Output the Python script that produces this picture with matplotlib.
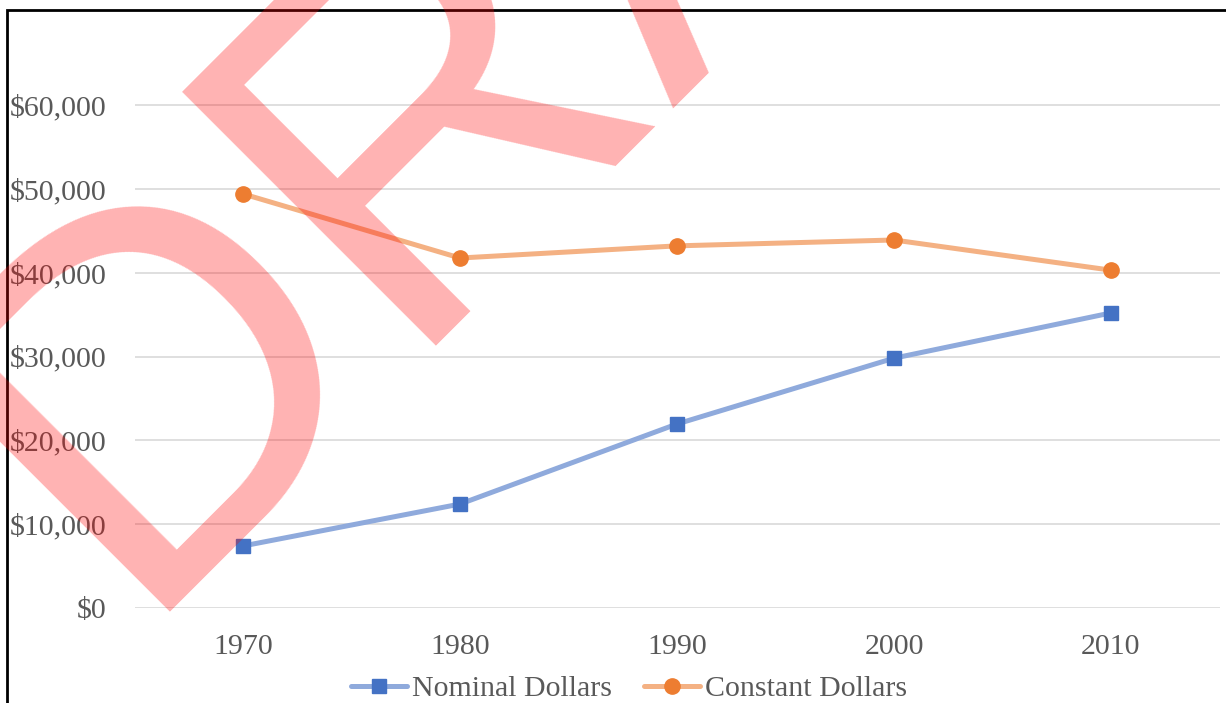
import matplotlib
matplotlib.use("Agg")
import matplotlib.pyplot as plt
from matplotlib.patches import Rectangle

years = ["1970", "1980", "1990", "2000", "2010"]
nominal = [7400, 12400, 21950, 29800, 35200]
constant = [49400, 41750, 43200, 43900, 40300]
y_ticks = [0, 10000, 20000, 30000, 40000, 50000, 60000]
y_labels = ["$0", "$10,000", "$20,000", "$30,000", "$40,000", "$50,000", "$60,000"]
series_names = ["Nominal Dollars", "Constant Dollars"]

W, H = 1226, 703
fig = plt.figure(figsize=(W / 100, H / 100), dpi=100)
fig.patch.set_facecolor("white")

def fx(px):
    return px / W

def fy(py):
    return 1 - py / H

ax_left, ax_right, ax_top, ax_bottom = 134.5, 1219.5, 21.2, 608
ax = fig.add_axes([fx(ax_left), fy(ax_bottom), fx(ax_right - ax_left), (ax_bottom - ax_top) / H])
ax.set_xlim(-0.5, len(years) - 0.5)
ax.set_ylim(0, 70000)
for s in ax.spines.values():
    s.set_visible(False)
ax.set_yticks(y_ticks)
ax.set_yticklabels(y_labels)
ax.set_xticks(range(len(years)))
ax.set_xticklabels(years)
ax.tick_params(axis="both", length=0, labelsize=21.5, labelcolor="#595959")
ax.tick_params(axis="y", pad=20)
ax.tick_params(axis="x", pad=19)
for lbl in ax.get_xticklabels() + ax.get_yticklabels():
    lbl.set_fontfamily("Liberation Serif")
ax.grid(axis="y", color="#d9d9d9", linewidth=1.2)
ax.set_axisbelow(True)

x = list(range(len(years)))
l1, = ax.plot(x, nominal, color="#8FAADC", lw=3.6, marker="s", markersize=10.3,
              markerfacecolor="#4472C4", markeredgecolor="#4472C4", label=series_names[0],
              solid_capstyle="round", clip_on=False, zorder=3)
l2, = ax.plot(x, constant, color="#F4B183", lw=3.6, marker="o", markersize=11,
              markerfacecolor="#ED7D31", markeredgecolor="#ED7D31", label=series_names[1],
              solid_capstyle="round", clip_on=False, zorder=3)

leg = fig.legend(handles=[l1, l2], loc="center", bbox_to_anchor=(fx(629), fy(689)),
                 ncol=2, frameon=False, handlelength=1.87, handletextpad=0.15,
                 columnspacing=1.1, borderpad=0,
                 prop={"family": "Liberation Serif", "size": 21.5})
for t in leg.get_texts():
    t.set_color("#595959")

# outer chart frame (cropped)
fig.add_artist(Rectangle((fx(7), -0.1), 1.2, fy(10) + 0.1, transform=fig.transFigure,
                         fill=False, edgecolor="black", linewidth=2, zorder=10))

# DRAFT watermark
fig.text(fx(127), fy(612), "DRAFT", rotation=45, rotation_mode="anchor",
         ha="left", va="baseline", fontsize=376, fontweight="normal",
         family="Liberation Sans", color="red", alpha=0.3, zorder=20)

fig.savefig("out.png", dpi=100, facecolor="white")
